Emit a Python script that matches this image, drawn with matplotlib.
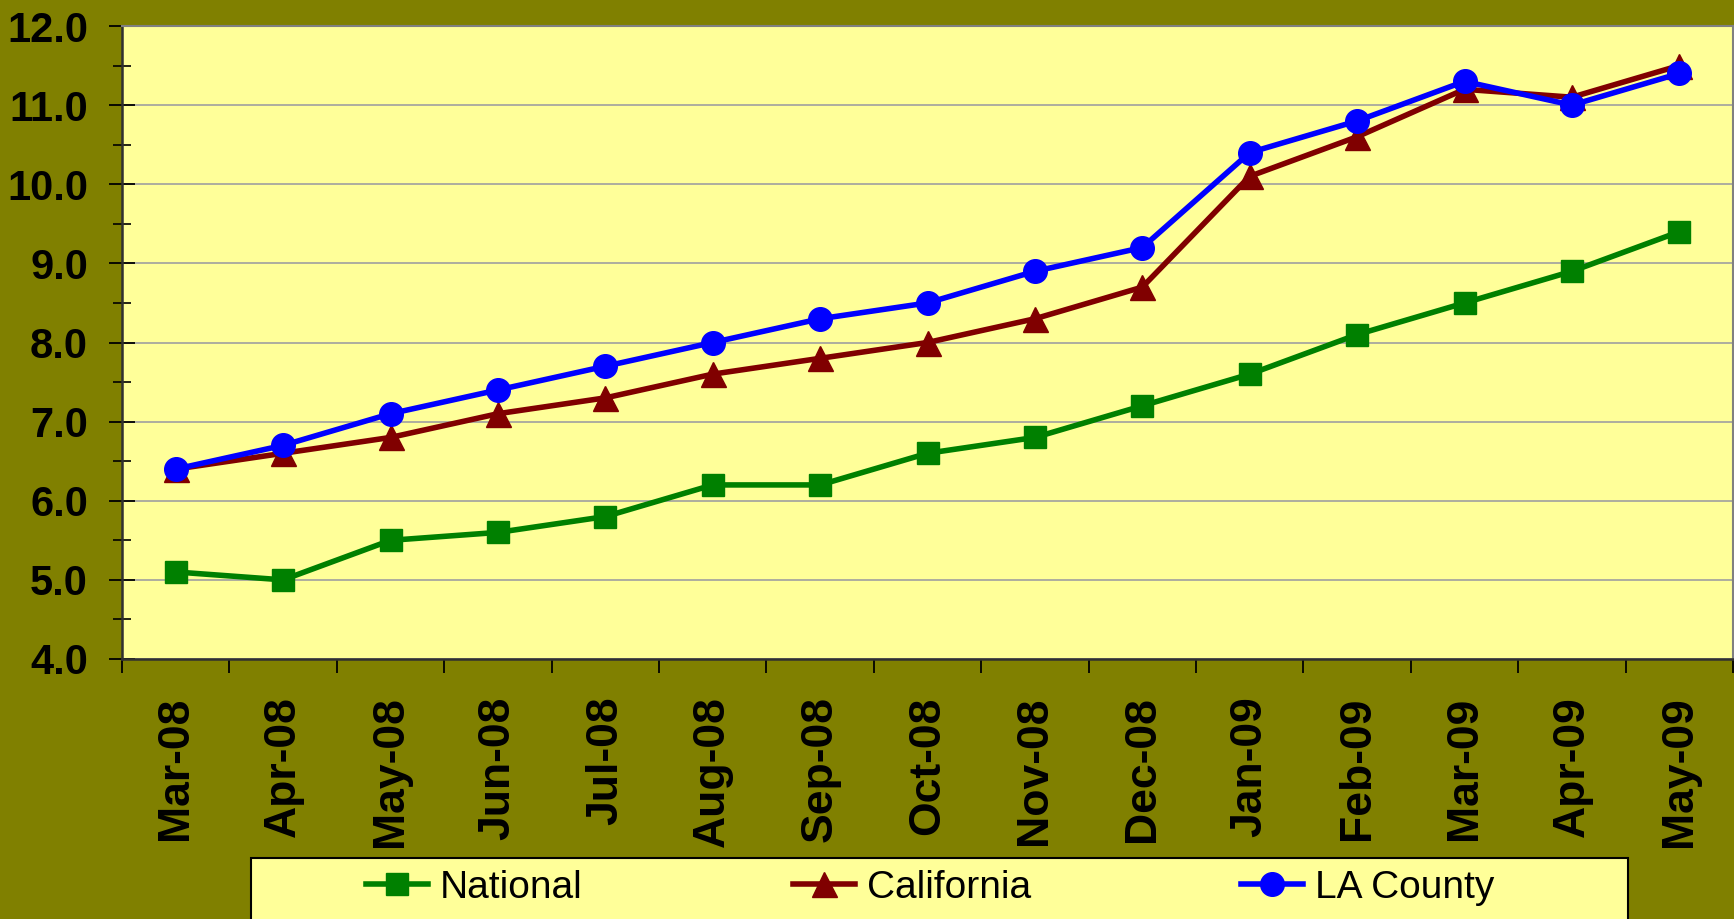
import matplotlib
matplotlib.use('Agg')
import matplotlib.pyplot as plt
from matplotlib.patches import Rectangle
from matplotlib.ticker import MultipleLocator, FixedLocator

months = ['Mar-08', 'Apr-08', 'May-08', 'Jun-08', 'Jul-08', 'Aug-08', 'Sep-08', 'Oct-08',
          'Nov-08', 'Dec-08', 'Jan-09', 'Feb-09', 'Mar-09', 'Apr-09', 'May-09']
national = [5.1, 5.0, 5.5, 5.6, 5.8, 6.2, 6.2, 6.6, 6.8, 7.2, 7.6, 8.1, 8.5, 8.9, 9.4]
california = [6.4, 6.6, 6.8, 7.1, 7.3, 7.6, 7.8, 8.0, 8.3, 8.7, 10.1, 10.6, 11.2, 11.1, 11.5]
la_county = [6.4, 6.7, 7.1, 7.4, 7.7, 8.0, 8.3, 8.5, 8.9, 9.2, 10.4, 10.8, 11.3, 11.0, 11.4]

plt.rcParams['font.family'] = ['Liberation Sans', 'DejaVu Sans']

W, H = 1734, 919
fig = plt.figure(figsize=(W / 100, H / 100), dpi=100, facecolor='#808000')
ax = fig.add_axes([122 / W, 1 - 659 / H, (1733 - 122) / W, (659 - 26) / H])
ax.set_facecolor('#FFFF99')

x = list(range(len(months)))
ax.plot(x, national, color='#008000', lw=4, marker='s', ms=16, mec='#008000', label='National')
ax.plot(x, california, color='#800000', lw=4, marker='^', ms=18, mec='#800000', label='California')
ax.plot(x, la_county, color='#0000FF', lw=4, marker='o', ms=17, mec='#0000FF', label='LA County')

ax.set_ylim(4, 12)
ax.set_xlim(-0.5, len(months) - 0.5)
ax.yaxis.set_major_locator(MultipleLocator(1))
ax.yaxis.set_minor_locator(MultipleLocator(0.5))
ax.yaxis.set_major_formatter(plt.FuncFormatter(lambda v, p: f'{v:.1f}'))
ax.tick_params(axis='y', which='major', direction='inout', length=19, width=1.3,
               labelsize=30, pad=15)
ax.tick_params(axis='y', which='minor', direction='inout', length=13, width=1.2)
for t in ax.get_yticklabels():
    t.set_fontweight('bold')

ax.set_xticks(x)
ax.set_xticklabels(months, rotation=90, fontsize=32, fontweight='bold')
ax.xaxis.set_minor_locator(FixedLocator([i - 0.5 for i in range(len(months) + 1)]))
ax.tick_params(axis='x', which='major', length=0, pad=27)
ax.tick_params(axis='x', which='minor', direction='out', length=10, width=1.3)

ax.grid(axis='y', which='major', color='#A0A0A0', lw=1.2)
ax.set_axisbelow(True)
for s in ['left', 'bottom']:
    ax.spines[s].set_color('#303030')
    ax.spines[s].set_linewidth(1.8)
for s in ['top', 'right']:
    ax.spines[s].set_color('#808080')
    ax.spines[s].set_linewidth(1.5)

# legend box
fig.patches.append(Rectangle((251 / W, -0.05), (1628 - 251) / W, 0.05 + (919 - 858) / H,
                             transform=fig.transFigure, facecolor='#FFFF99',
                             edgecolor='black', lw=1.5))
fig.legend(loc='center left', bbox_to_anchor=(366 / W, 1 - 888 / H), ncol=3,
           frameon=False, fontsize=28, handlelength=1.6, handletextpad=0.3,
           columnspacing=5.4, borderpad=0, borderaxespad=0, markerscale=1.0)

fig.savefig('out.png', dpi=100, facecolor=fig.get_facecolor())
